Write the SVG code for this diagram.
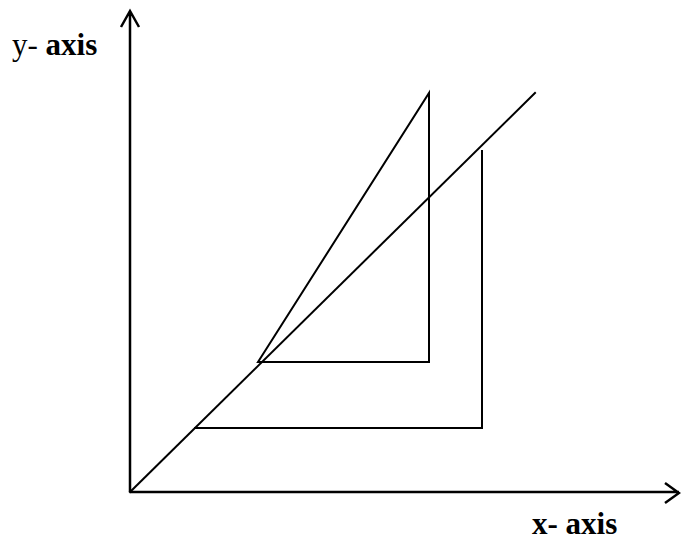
<svg xmlns="http://www.w3.org/2000/svg" width="681" height="542" viewBox="0 0 681 542">
<style>
.ln{fill:none;stroke:#000;stroke-width:2;stroke-linecap:square}
.ax{fill:none;stroke:#000;stroke-width:2.5}
.lbl{font-family:"Liberation Serif","Times New Roman",serif;font-size:31px;fill:#000}
</style>
<rect width="681" height="542" fill="#fff"/>
<g id="connectors">
<path class="ax" d="M130,492 V11 M121,27 L130,11 L139,27"/>
<path class="ax" d="M130,492 H679 M665,483 L679,493 L665,503"/>
<path class="ln" d="M130,492 L535,93"/>
</g>
<g id="triangle1"><path class="ln" d="M258,362 L429,93 V362 Z"/></g>
<g id="triangle2"><path class="ln" d="M195,428 H482 V151"/></g>
<g id="ylabel"><text class="lbl" x="12" y="55">y- <tspan font-weight="bold">axis</tspan></text></g>
<g id="xlabel"><text class="lbl" x="532" y="534" font-weight="bold">x- axis</text></g>
</svg>
